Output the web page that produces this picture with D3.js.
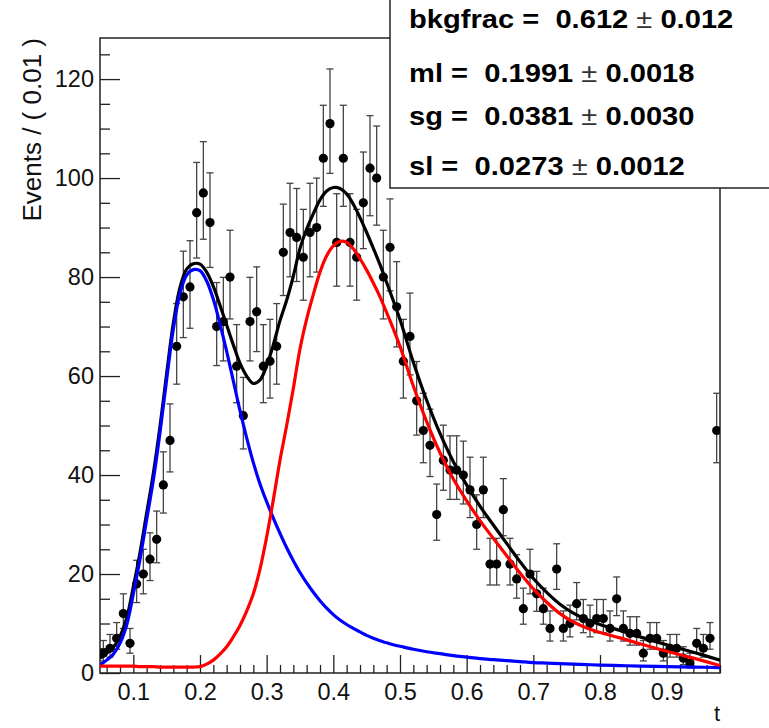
<!DOCTYPE html>
<html><head><meta charset="utf-8">
<script src="https://cdn.jsdelivr.net/npm/d3@7"></script>
<style>body{margin:0;background:#fff}svg{display:block}</style>
</head><body>
<svg id="c" width="769" height="728"></svg>
<script>
// ---------- data ----------
const binCenters = [0.055,0.065,0.075,0.085,0.095,0.105,0.115,0.125,0.135,0.145,0.155,0.165,0.175,0.185,0.195,0.205,0.215,0.225,0.235,0.245,0.255,0.265,0.275,0.285,0.295,0.305,0.315,0.325,0.335,0.345,0.355,0.365,0.375,0.385,0.395,0.405,0.415,0.425,0.435,0.445,0.455,0.465,0.475,0.485,0.495,0.505,0.515,0.525,0.535,0.545,0.555,0.565,0.575,0.585,0.595,0.605,0.615,0.625,0.635,0.645,0.655,0.665,0.675,0.685,0.695,0.705,0.715,0.725,0.735,0.745,0.755,0.765,0.775,0.785,0.795,0.805,0.815,0.825,0.835,0.845,0.855,0.865,0.875,0.885,0.895,0.905,0.915,0.925,0.935,0.945,0.955,0.965,0.975];
const counts = [4,5,7,12,6,18,20,23,27,38,47,66,76,78,93,97,91,70,71,80,62,52,71,73,62,63,66,85,89,88,84,89,90,104,111,87,104,87,84,95,102,100,80,86,74,63,68,55,49,46,32,43,41,41,40,37,30,37,22,22,33,22,19,13,20,16,13,9,21,9,10,14,11,10,11,11,9,15,9,8,8,4,7,7,4,5,5,3,2,6,5,7,49];

const curveT = [0.05,0.06,0.07,0.08,0.09,0.10,0.11,0.12,0.13,0.14,0.15,0.16,0.17,0.18,0.19,0.20,0.21,0.22,0.23,0.24,0.25,0.26,0.27,0.28,0.29,0.30,0.31,0.32,0.33,0.34,0.35,0.36,0.37,0.38,0.39,0.40,0.41,0.42,0.43,0.44,0.45,0.46,0.47,0.48,0.49,0.50,0.52,0.54,0.56,0.58,0.60,0.62,0.64,0.66,0.68,0.70,0.72,0.74,0.76,0.78,0.80,0.83,0.86,0.90,0.94,0.98];
const blueCurve = [1.6,2.6,3.8,6,9.7,16,23,31,39,48.6,59.3,69.5,76.7,80.4,81.5,81.3,79.2,75.5,70.5,65,59,53,47.5,42.5,38.2,34.6,31.3,28.2,25.3,22.7,20.3,18.2,16.3,14.6,13.1,11.8,10.7,9.8,9,8.3,7.6,7,6.5,6.1,5.7,5.4,4.8,4.3,3.9,3.5,3.2,2.9,2.7,2.5,2.3,2.1,2,1.9,1.8,1.7,1.6,1.5,1.4,1.3,1.2,1.1];
const redCurve = [1.4,1.4,1.4,1.4,1.4,1.4,1.3,1.3,1.3,1.2,1.2,1.2,1.2,1.2,1.2,1.3,1.8,2.6,3.8,5.3,7.3,9.6,12.5,16,21,27.5,35,43,50,57.5,65.5,71.5,76.5,81,84.3,86.3,87.2,87,85.7,83.7,81.4,78.8,76,72.8,69.5,66,58,50.8,44.5,39.2,34.8,30.8,27.2,23.7,20.2,17,14.3,12,10.3,9.1,8.2,7.1,5.9,4.4,3,1.5];
const totalCurve = [3.0,4.0,5.2,7.4,11.1,17.4,24.3,32.3,40.3,49.8,60.5,70.7,77.9,81.6,82.7,82.6,81.0,78.1,74.3,70.3,66.3,62.6,60.0,58.5,59.2,62.1,66.3,71.2,75.3,80.2,85.8,89.7,92.8,95.6,97.4,98.1,97.9,96.8,94.7,92.0,89.0,85.8,82.5,78.9,75.2,71.4,62.8,55.1,48.4,42.7,38.0,33.7,29.9,26.2,22.5,19.1,16.3,13.9,12.1,10.8,9.8,8.6,7.3,5.7,4.2,2.6];

const xTicks = [0.1,0.2,0.3,0.4,0.5,0.6,0.7,0.8,0.9];
const yTicks = [0,20,40,60,80,100,120];

const paramNames = ["bkgfrac","ml","sg","sl"];
const paramValues = ["0.612","0.1991","0.0381","0.0273"];
const paramErrors = ["0.012","0.0018","0.0030","0.0012"];

const xTitle = "t";
const yTitle = "Events / ( 0.01 )";

// ---------- layout ----------
const FONT = "'Liberation Sans', Arial, Helvetica, sans-serif";
const L = 100, R = 720, T = 38, B = 673;
const svg = d3.select('#c');
const x = d3.scaleLinear().domain([0.05, 0.98]).range([L, R]);
const y = d3.scaleLinear().domain([0, 128.3]).range([B, T]);

svg.append('defs').append('clipPath').attr('id','clip')
  .append('rect').attr('x',L).attr('y',T).attr('width',R-L).attr('height',B-T);

// axes (ticks drawn inward)
const xMinor = d3.range(0.06, 0.981, 0.02).filter(v => Math.abs(v*10 - Math.round(v*10)) > 1e-6);
const yMinor = d3.range(5, 126, 5).filter(v => v % 20 !== 0);

function styleAxis(g){
  g.select('.domain').remove();
  g.selectAll('.tick line').attr('stroke','#222').attr('stroke-width',1.3);
  g.selectAll('.tick text').attr('fill','#111').style('font-family',FONT).style('font-size','23.5px');
}
svg.append('g').attr('transform',`translate(0,${B})`)
  .call(d3.axisBottom(x).tickValues(xMinor).tickSize(-8).tickFormat('')).call(styleAxis);
svg.append('g').attr('transform',`translate(0,${B})`)
  .call(d3.axisBottom(x).tickValues(xTicks).tickSize(-18).tickPadding(10).tickFormat(d3.format('.1f'))).call(styleAxis);
svg.append('g').attr('transform',`translate(${L},0)`)
  .call(d3.axisLeft(y).tickValues(yMinor).tickSize(-10).tickFormat('')).call(styleAxis);
svg.append('g').attr('transform',`translate(${L},0)`)
  .call(d3.axisLeft(y).tickValues(yTicks).tickSize(-20).tickPadding(6).tickFormat(d3.format('d'))).call(styleAxis);

// frame
svg.append('rect').attr('x',L).attr('y',T).attr('width',R-L).attr('height',B-T)
  .attr('fill','none').attr('stroke','#222').attr('stroke-width',1.5);

// axis titles
svg.append('text').attr('transform',`translate(41,${T}) rotate(-90)`)
  .attr('text-anchor','end').style('font-family',FONT).style('font-size','26px').attr('fill','#111')
  .text(yTitle);
svg.append('text').attr('x',R).attr('y',721).attr('text-anchor','end')
  .style('font-family',FONT).style('font-size','22px').attr('fill','#111').text(xTitle);

// data points with Poisson-style error bars
const plot = svg.append('g').attr('clip-path','url(#clip)');
const pts = binCenters.map((t,i)=>({t, n:counts[i]}));
const eb = plot.append('g').attr('stroke','#444').attr('stroke-width',1.3);
pts.forEach(d=>{
  const s = Math.sqrt(d.n + 0.25);
  const lo = d.n + 0.5 - s, hi = d.n + 0.5 + s;
  const cx = x(d.t);
  eb.append('line').attr('x1',cx).attr('x2',cx).attr('y1',y(lo)).attr('y2',y(hi));
  eb.append('line').attr('x1',cx-3.5).attr('x2',cx+3.5).attr('y1',y(lo)).attr('y2',y(lo));
  eb.append('line').attr('x1',cx-3.5).attr('x2',cx+3.5).attr('y1',y(hi)).attr('y2',y(hi));
});
plot.append('g').selectAll('circle').data(pts).join('circle')
  .attr('cx',d=>x(d.t)).attr('cy',d=>y(d.n)).attr('r',4.6).attr('fill','#000');

// curves
const line = d3.line().x(d=>x(d[0])).y(d=>y(d[1])).curve(d3.curveCatmullRom);
[[totalCurve,'#000'],[blueCurve,'#0000ff'],[redCurve,'#ff0000']].forEach(([vals,col])=>{
  plot.append('path').datum(curveT.map((t,i)=>[t,vals[i]]))
    .attr('d',line).attr('fill','none').attr('stroke',col).attr('stroke-width',3.2)
    .attr('stroke-linejoin','round');
});

// parameter box
svg.append('rect').attr('x',390).attr('y',-5).attr('width',400).attr('height',193)
  .attr('fill','#fff').attr('stroke','#222').attr('stroke-width',1.5);
const baselines = [28.3, 81.7, 125, 175];
paramNames.forEach((n,i)=>{
  const t = svg.append('text').attr('transform',`translate(409,${baselines[i]}) scale(1.12,1)`)
    .style('font-family',FONT).style('font-size','26px').style('white-space','pre').attr('fill','#000');
  t.append('tspan').style('font-weight','bold').text(`${n} =  ${paramValues[i]} `);
  t.append('tspan').style('font-weight','normal').attr('fill','#333').text('\u00B1');
  t.append('tspan').style('font-weight','bold').text(` ${paramErrors[i]}`);
});
</script>
</body></html>
